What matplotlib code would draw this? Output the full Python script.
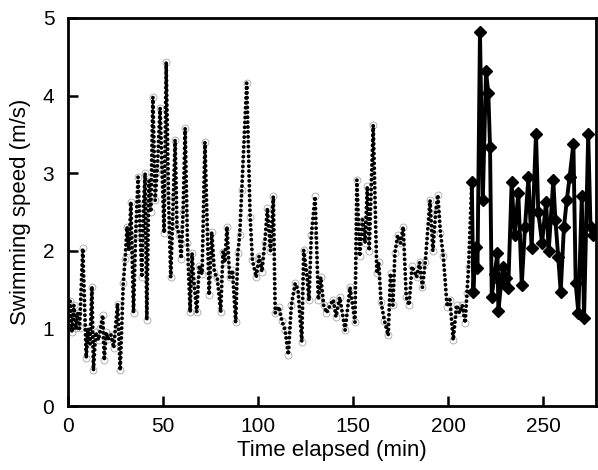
import matplotlib
matplotlib.use("Agg")
import matplotlib.pyplot as plt

plt.rcParams['font.family'] = ['Liberation Sans', 'DejaVu Sans']

# dotted record (min, m/s)
t_dot = [0, 1, 2, 3, 4, 5, 6, 7.7, 9.5, 10.5, 11.5, 12.5, 13.3, 14.5, 16, 17, 18.2, 19,
         20, 21, 22.5, 24, 26, 27.4, 29, 30, 31, 32, 33, 34.4, 35.5, 36.8, 37.8, 38.8,
         39.7, 40.5, 41.4, 42.5, 43.5, 44.6, 45.8, 47, 48.4, 49.5, 50.5, 51.6, 52.8, 54,
         55, 56.3, 57.3, 58.5, 59.5, 60.5, 61.6, 62.8, 64.2, 65.2, 66.2, 67.7, 69, 70.5,
         72, 74.2, 75.6, 77, 78.5, 80.3, 81.5, 82.5, 83.6, 85, 86.5, 88.2, 89.3, 90.3,
         91.4, 94, 95.8, 97, 99, 100.5, 102, 103.5, 104.9, 106.5, 108, 109, 111, 112.5,
         114.2, 115.9, 117.5, 119.5, 121, 123, 124, 125.6, 126.8, 128, 130, 131.7, 133,
         134.5, 136, 138, 139.6, 141, 143, 145.8, 148.4, 151, 152, 153.5, 155, 156.3,
         157.5, 158.5, 160.6, 162.5, 163.5, 164.7, 166.5, 168.5, 169.7, 171, 172, 173.5,
         175, 176.4, 178, 179.5, 181, 183.5, 185, 186.5, 188, 190.5, 192, 193.5, 194.6,
         196, 197.5, 199.5, 201, 202.7, 204.5, 206, 207.5, 209, 210, 210.8, 212.5]
v_dot = [1.1, 1.35, 0.95, 1.3, 1.0, 1.2, 1.0, 2.03, 0.62, 1.0, 0.8, 1.54, 0.46, 0.95, 0.85, 1.0, 1.17, 0.59,
         0.95, 0.86, 0.92, 0.75, 1.32, 0.46, 1.58, 1.9, 2.31, 2.0, 2.63, 1.2, 2.2, 2.95, 2.3, 1.66,
         2.6, 3.0, 1.11, 2.9, 2.5, 3.98, 2.65, 3.1, 3.84, 3.0, 2.23, 4.43, 2.7, 1.66,
         2.4, 3.43, 2.3, 2.2, 1.9, 2.5, 3.58, 2.1, 1.21, 1.97, 1.6, 1.21, 1.81, 1.7,
         3.4, 1.43, 2.24, 1.72, 1.65, 1.21, 1.99, 1.85, 2.31, 1.66, 1.75, 1.08, 1.97, 2.2,
         2.78, 4.16, 2.44, 1.88, 1.66, 1.93, 1.73, 2.1, 2.55, 2.0, 2.7, 1.2, 1.28, 1.1,
         0.98, 0.66, 1.3, 1.58, 1.5, 0.83, 2.01, 1.71, 1.36, 2.2, 2.7, 1.37, 1.66,
         1.3, 1.2, 1.3, 1.37, 1.15, 1.4, 0.98, 1.53, 1.08, 2.91, 1.93, 2.4, 2.1,
         2.83, 2.0, 3.62, 1.71, 1.85, 1.34, 1.1, 0.91, 1.71, 1.3, 1.97, 2.2,
         2.1, 2.31, 1.4, 1.3, 1.8, 1.66, 1.85, 1.53, 1.85, 2.65, 2.0, 2.5, 2.72,
         2.23, 1.93, 1.28, 1.37, 0.85, 1.3, 1.2, 1.3, 1.07, 1.46, 1.79, 2.89]

# diamond record
t_dia = [212.5, 213.3, 214.5, 215.5, 216.8, 218.3, 220.0, 221.2, 222.1, 223.0, 224.5, 226.0,
         226.5, 228.0, 229.0, 230.5, 231.7, 233.5, 235.0, 237.0, 238.8, 240.5, 242.3, 244.0,
         246.3, 247.5, 249.5, 251.6, 253.0, 255.4, 256.5, 258.0, 259.3, 261.0, 262.5, 264.0,
         266.0, 267.2, 268.6, 270.4, 271.6, 273.8, 275.0, 276.5]
v_dia = [2.89, 1.47, 2.05, 1.78, 4.82, 2.65, 4.31, 4.03, 3.34, 1.41, 1.7, 1.97,
         1.22, 1.6, 1.79, 1.65, 1.52, 2.89, 2.2, 2.74, 1.56, 2.3, 2.95, 2.03,
         3.51, 2.5, 2.1, 2.63, 2.0, 2.91, 2.4, 1.92, 1.47, 2.3, 2.65, 2.95,
         3.38, 1.58, 1.2, 2.7, 1.13, 3.51, 2.3, 2.2]

assert len(t_dot) == len(v_dot), (len(t_dot), len(v_dot))

fig = plt.figure(figsize=(5.98, 4.70), dpi=100)
ax = fig.add_axes([0.114, 0.136, 0.883, 0.826])

ax.plot(t_dot, v_dot, color='black', lw=2.8, linestyle=(0, (0.01, 1.25)),
        dash_capstyle='round', zorder=2)
ax.plot(t_dot, v_dot, linestyle='none', marker='o', ms=5, mfc='none',
        mec='0.65', mew=0.6, zorder=1)
ax.plot(t_dia, v_dia, color='black', lw=2.8, marker='D', ms=6, zorder=3)

ax.set_xlim(0, 278)
ax.set_ylim(0, 5)
ax.set_xticks([0, 50, 100, 150, 200, 250])
ax.set_yticks([0, 1, 2, 3, 4, 5])
ax.tick_params(direction='in', length=7, width=1.8, labelsize=15,
               top=False, right=False)
ax.tick_params(axis='x', pad=8)
ax.tick_params(axis='y', pad=10)
for s in ax.spines.values():
    s.set_linewidth(2)

ax.set_xlabel('Time elapsed (min)', fontsize=16, labelpad=3)
ax.set_ylabel('Swimming speed (m/s)', fontsize=16, labelpad=8)

fig.savefig('out.png', dpi=100)
